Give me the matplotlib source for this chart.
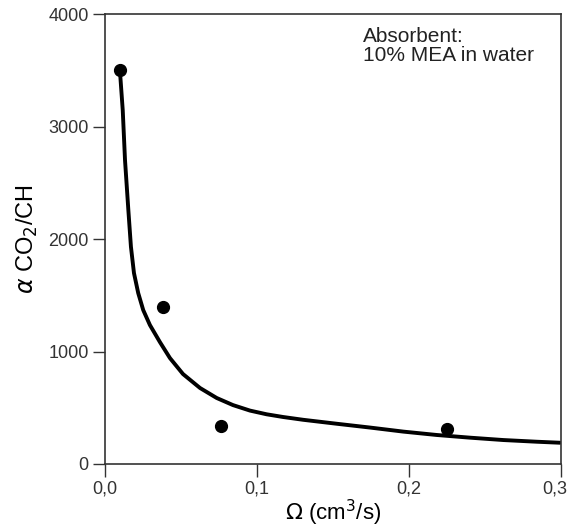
import matplotlib
matplotlib.use("Agg")
import matplotlib.pyplot as plt
import matplotlib.transforms as mtransforms

plt.rcParams['font.family'] = ['Liberation Sans', 'DejaVu Sans']

# points mesures
omega_pts = [0.0099, 0.038, 0.076, 0.225]
alpha_pts = [3500, 1400, 335, 311]

# courbe
omega_courbe = [0.0097, 0.0115, 0.013, 0.0152, 0.0169, 0.0189, 0.0217, 0.025, 0.0294,
                0.036, 0.0426, 0.0512, 0.0624, 0.0734, 0.0841, 0.0953, 0.1063, 0.1171,
                0.1304, 0.1524, 0.1744, 0.1963, 0.2183, 0.2403, 0.2622, 0.2842, 0.2995]
alpha_courbe = [3487, 3147, 2702, 2258, 1932, 1698, 1520, 1369, 1236,
                1084, 942, 800, 676, 587, 524, 475, 442, 418,
                393, 358, 324, 288, 258, 234, 213, 198, 189]

xticks = [0.0, 0.1, 0.2, 0.3]
xtick_labels = ["0,0", "0,1", "0,2", "0,3"]
yticks = [0, 1000, 2000, 3000, 4000]

fig = plt.figure(figsize=(5.7, 5.29), dpi=100)
ax = fig.add_axes([0.1847, 0.1229, 0.799, 0.8501])

ax.plot(omega_courbe, alpha_courbe, color='black', lw=2.8,
        solid_capstyle='round', solid_joinstyle='round')
ax.plot(omega_pts, alpha_pts, 'o', color='black', markersize=8.5)

ax.set_xlim(0, 0.3)
ax.set_ylim(0, 4000)
ax.set_xticks(xticks)
ax.set_xticklabels(xtick_labels)
ax.set_yticks(yticks)
ax.tick_params(direction='out', length=9, width=1, labelsize=13, colors='#333333',
               labelcolor='#333333', pad=3)

# le dernier label un peu a gauche pour rester dans l'image
dernier = ax.get_xticklabels()[-1]
dernier.set_transform(dernier.get_transform() +
                      mtransforms.ScaledTranslation(-6 / 100, 0, fig.dpi_scale_trans))

for s in ax.spines.values():
    s.set_linewidth(1.2)
    s.set_color('#333333')

ax.set_xlabel(r"$\Omega$ (cm$^3$/s)", fontsize=16, labelpad=0)
ax.set_ylabel(r"$\alpha$ CO$_2$/CH", fontsize=17, labelpad=6)

ax.text(0.17, 3890, "Absorbent:\n10% MEA in water", fontsize=15, va='top', ha='left',
        color='#222222', linespacing=1.05)

fig.savefig("out.png", dpi=100)
